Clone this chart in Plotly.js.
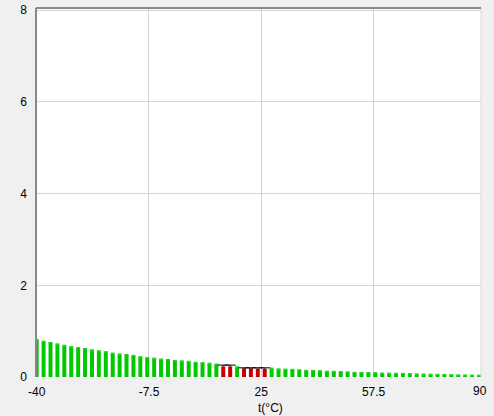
<!DOCTYPE html>
<html>
<head>
<meta charset="utf-8">
<script src="https://cdn.plot.ly/plotly-3.0.1.min.js"></script>
<style>html,body{margin:0;padding:0;background:#f0f0f0;}#chart{width:494px;height:416px;}</style>
</head>
<body>
<div id="chart"></div>
<script>
// Temperature categories (°C), one bar every 2 degrees
const temps = [-40,-38,-36,-34,-32,-30,-28,-26,-24,-22,-20,-18,-16,-14,-12,-10,-8,-6,-4,-2,
  0,2,4,6,8,10,12,14,16,18,20,22,24,26,28,30,32,34,36,38,40,42,44,46,48,50,52,54,56,58,
  60,62,64,66,68,70,72,74,76,78,80,82,84,86,88];
// Bar heights
const values = [0.81,0.77,0.74,0.71,0.68,0.65,0.63,0.61,0.58,0.56,0.54,0.51,0.49,0.48,0.46,0.43,0.41,0.40,0.38,0.37,
  0.35,0.34,0.33,0.31,0.30,0.29,0.27,0.23,0.23,0.21,0.19,0.19,0.18,0.18,0.18,0.165,0.16,0.155,0.145,0.135,
  0.13,0.125,0.115,0.11,0.105,0.10,0.09,0.088,0.085,0.082,0.075,0.072,0.07,0.067,0.063,0.055,0.053,0.05,0.048,0.045,
  0.038,0.035,0.032,0.03,0.028];
// Highlighted (measured) temperatures and their upper limits
const measuredTemps = [14,16,20,22,24,26];
const measuredUpper = [0.26,0.26,0.20,0.20,0.20,0.20];
// Axis ticks
const xTickVals = [-40,-7.5,25,57.5];
const xTickText = ['-40','-7.5','25','57.5'];
const xLastTick = '90';
const yTickVals = [0,2,4,6,8];
const xTitle = 't(°C)';

const greenX = [], greenY = [], redX = [], redY = [], redUp = [];
temps.forEach((t,i)=>{
  const j = measuredTemps.indexOf(t);
  if (j >= 0) { redX.push(t); redY.push(values[i]); redUp.push(measuredUpper[j]-values[i]); }
  else { greenX.push(t); greenY.push(values[i]); }
});

const traces = [
  {type:'bar', x:greenX, y:greenY, width:1.15, marker:{color:'#00c800', line:{width:0}},
   error_y:{type:'constant', value:0.012, color:'#10d010', thickness:1, width:2}, hoverinfo:'x+y'},
  {type:'bar', x:redX, y:redY, width:1.15, marker:{color:'#c80000', line:{width:0}},
   error_y:{type:'data', symmetric:false, array:redUp, arrayminus:redUp.map(()=>0), color:'#000', thickness:1, width:0}},
  {type:'scatter', mode:'markers', x:measuredTemps, y:measuredUpper,
   marker:{symbol:'line-ew', size:8, color:'#000', line:{color:'#000', width:1}}}
];

const font = {family:'Liberation Sans, Arial, sans-serif', size:12, color:'#000'};
const layout = {
  width:494, height:416,
  margin:{l:36, r:13, t:8, b:39, pad:0},
  paper_bgcolor:'#f0f0f0', plot_bgcolor:'#ffffff',
  showlegend:false, barmode:'overlay', font:font,
  xaxis:{range:[-40.2,88.6], tickvals:xTickVals, ticktext:xTickText, showgrid:true, gridcolor:'#d4d4d4', gridwidth:1,
         zeroline:false, showline:false, ticks:'', ticklabelstandoff:6, tickfont:font, fixedrange:true},
  yaxis:{range:[0,8.05], tickvals:yTickVals, showgrid:true, gridcolor:'#d4d4d4', gridwidth:1,
         zeroline:false, showline:false, ticks:'', ticklabelstandoff:8, tickfont:font, fixedrange:true},
  shapes:[
    {type:'line', xref:'paper', yref:'paper', x0:1, x1:1, y0:0, y1:1, line:{color:'#d8d8d8', width:1}},
    {type:'line', xref:'paper', yref:'paper', x0:0, x1:1, y0:1, y1:1, line:{color:'#888888', width:2}},
    {type:'line', xref:'paper', yref:'paper', x0:0, x1:0, y0:0, y1:1, line:{color:'#888888', width:2}}
  ],
  annotations:[
    {text:xLastTick, xref:'paper', yref:'paper', x:(480-36)/445, y:0, yshift:-14, xanchor:'center', yanchor:'middle', showarrow:false, font:font},
    {text:xTitle, xref:'paper', yref:'paper', x:(270-36)/445, y:0, yshift:-31, xanchor:'center', yanchor:'middle', showarrow:false, font:font}
  ]
};
Plotly.newPlot('chart', traces, layout, {displayModeBar:false, staticPlot:true});
</script>
</body>
</html>
